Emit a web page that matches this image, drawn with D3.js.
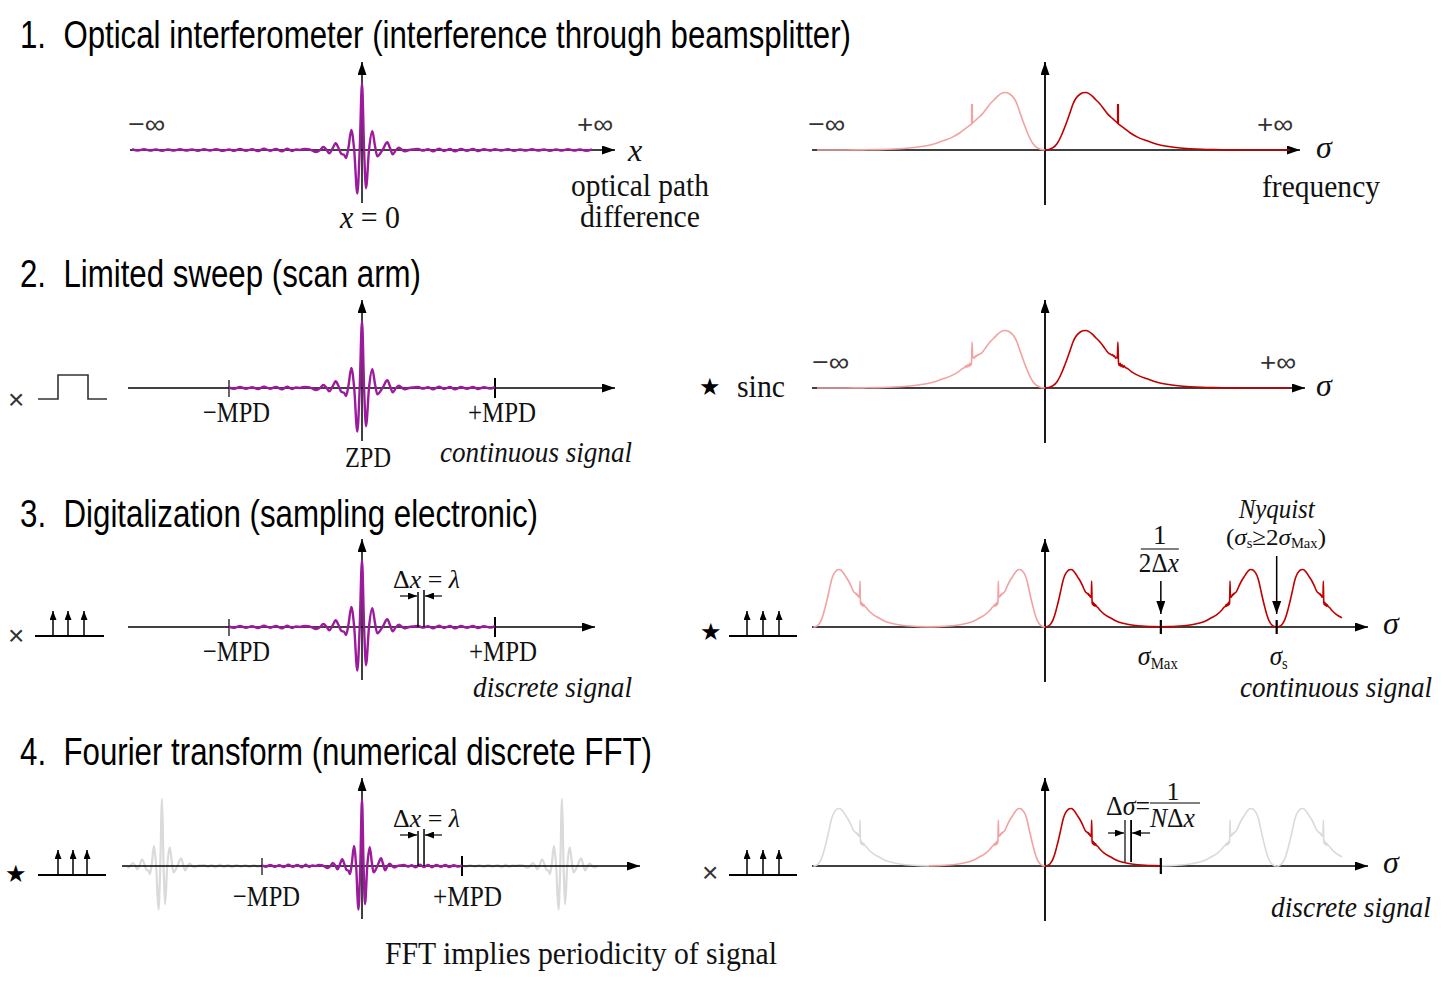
<!DOCTYPE html>
<html>
<head>
<meta charset="utf-8">
<script src="https://cdn.jsdelivr.net/npm/d3@7/dist/d3.min.js"></script>
<style>
  body { margin: 0; background: #fff; }
  text.title { white-space: pre; }
</style>
</head>
<body>
<svg id="chart" width="1447" height="981"></svg>
<script>
// ---- data ----
// interferogram [opd, intensity], opd in the same units as MPD
var MPD = 133;
var interferogram = [
  [-236, 0], [-230, 0.012], [-224, -0.01], [-218, 0.012], [-212, -0.01], [-206, 0.01], [-200, -0.012],
  [-194, 0.01], [-188, -0.01], [-182, 0.012], [-176, -0.01], [-170, 0.01], [-164, -0.012], [-158, 0.012],
  [-152, -0.01], [-146, 0.012], [-139, -0.012], [-133, 0.01], [-128, -0.012], [-122, 0.015], [-116, -0.012],
  [-110, 0.012], [-104, -0.015], [-98, 0.018], [-92, -0.012], [-86, 0.015], [-80, -0.02], [-75, 0.02],
  [-70, -0.015], [-66, 0.01], [-62, 0], [-58, 0.015], [-54, 0.012], [-50, -0.005], [-46, -0.03], [-42, 0],
  [-38.7, 0.045], [-35.5, 0.005], [-32.7, -0.05], [-29.5, 0.02], [-26.3, 0.10], [-23.5, 0.03], [-20.5, -0.06],
  [-18, -0.07], [-16, -0.12], [-13.5, 0.04], [-10.7, 0.30], [-7.8, 0], [-4.7, -0.65], [-2.3, 0], [0, 1.0],
  [2.1, 0], [4, -0.57], [7, 0], [10.3, 0.28], [13, 0.06], [15.3, -0.095], [20.5, 0.0], [25.3, 0.115],
  [28, 0.03], [30.7, -0.065], [34, 0], [37, 0.035], [40, 0], [43, -0.02], [47, 0], [52, 0.01], [56, 0.015],
  [61, -0.01], [66, 0.012], [71, -0.02], [77, 0.02], [82, -0.015], [88, 0.015], [93, -0.02], [99, 0.015],
  [105, -0.012], [111, 0.015], [116, -0.015], [122, 0.012], [128, -0.01], [133, 0.012], [139, -0.01],
  [146, 0.012], [152, -0.012], [158, 0.01], [164, -0.01], [170, 0.012], [176, -0.01], [182, 0.01],
  [188, -0.012], [194, 0.01], [200, -0.01], [206, 0.012], [212, -0.01], [218, 0.01], [224, -0.012],
  [230, 0.01], [236, 0]
];

// one-sided spectrum [sigma, normalized intensity]
var spectrum = [
  [0, 0], [4, 0.01], [8, 0.04], [12, 0.11], [15, 0.2], [18, 0.32], [22, 0.5], [25, 0.65], [28, 0.8],
  [31, 0.9], [35, 0.97], [38, 0.995], [41, 1.0], [44, 0.98], [47, 0.94], [51, 0.87], [55, 0.8], [59, 0.71],
  [63, 0.62], [68, 0.54], [73, 0.46], [79, 0.38], [85, 0.3], [93, 0.22], [102, 0.16], [112, 0.1],
  [122, 0.065], [133, 0.04], [145, 0.023], [157, 0.012], [168, 0.006], [181, 0.003], [200, 0.001],
  [228, 0], [245, 0]
];
// emission line and its sinc ringing once the sweep is limited
var emissionLine = { sigma: 73, top: 0.8 };
var sincRinging = [
  [62, 0.635], [64, 0.6], [65.5, 0.59], [66.5, 0.575], [67.5, 0.58], [68.5, 0.55], [69.5, 0.56],
  [70.5, 0.52], [71.5, 0.535], [72.3, 0.52], [72.9, 0.8], [73.6, 0.42], [74.4, 0.39], [75.2, 0.43],
  [76, 0.37], [77, 0.41], [78, 0.36], [79, 0.385], [80.5, 0.355], [82, 0.345], [86, 0.29]
];
var sigmaMax = 181;
var sigmaS = 362;

var titles = [
  '1.  Optical interferometer (interference through beamsplitter)',
  '2.  Limited sweep (scan arm)',
  '3.  Digitalization (sampling electronic)',
  '4.  Fourier transform (numerical discrete FFT)'
];

// ---- layout ----
var SERIF = '"Liberation Serif", "Times New Roman", serif';
var SANS = '"Liberation Sans Narrow", "Liberation Sans", Arial, sans-serif';
var PURPLE = '#9c1a9c', RED = '#c00000', PINK = '#f2a2a2', GHOST = '#dadada';
var rowY = [150, 388, 627, 866];
var titleY = [48, 287, 527, 765];
var titleW = [831, 401, 518, 632];
var leftCx = 362, rightCx = 1045;

var svg = d3.select('#chart');
var defs = svg.append('defs');

function marker(id, w, h) {
  defs.append('marker').attr('id', id)
    .attr('viewBox', '0 0 ' + w + ' ' + h)
    .attr('refX', w).attr('refY', h / 2)
    .attr('markerWidth', w).attr('markerHeight', h)
    .attr('markerUnits', 'userSpaceOnUse')
    .attr('orient', 'auto')
    .append('path').attr('d', 'M0,0 L' + w + ',' + h / 2 + ' L0,' + h + ' Z').attr('fill', '#000');
}
marker('arrow', 13, 9);
marker('arrowS', 9, 7);

function line(g, x1, y1, x2, y2, w, arrow, color) {
  var l = g.append('line').attr('x1', x1).attr('y1', y1).attr('x2', x2).attr('y2', y2)
    .attr('stroke', color || '#000').attr('stroke-width', w || 1.5);
  if (arrow) l.attr('marker-end', 'url(#' + arrow + ')');
  return l;
}

function label(g, x, y, parts, o) {
  o = o || {};
  var t = g.append('text').attr('x', x).attr('y', y)
    .attr('font-family', o.sans ? SANS : SERIF)
    .attr('font-size', o.size || 30)
    .attr('fill', o.color || '#111')
    .attr('text-anchor', o.anchor || 'start');
  if (typeof parts === 'string') parts = [[parts]];
  parts.forEach(function (p) {
    var s = t.append('tspan').text(p[0]);
    var st = p[1] || {};
    if (st.italic) s.attr('font-style', 'italic');
    if (st.size) s.attr('font-size', st.size);
    if (st.dy) s.attr('dy', st.dy);
  });
  if (o.italic) t.attr('font-style', 'italic');
  if (o.family) t.attr('font-family', o.family);
  if (o.cls) t.attr('class', o.cls);
  if (o.width) t.attr('textLength', o.width).attr('lengthAdjust', 'spacingAndGlyphs');
  return t;
}

function comb(g, x0, x1, y, xs, h) {
  line(g, x0, y, x1, y, 2);
  xs.forEach(function (x) { line(g, x, y, x, y - h, 1.5, 'arrowS'); });
}

var g = svg.append('g');

titles.forEach(function (t, i) {
  label(g, 20, titleY[i], t, { sans: true, size: 38, width: titleW[i], color: '#000', cls: 'title' });
});

// ---- left column: interferograms ----
var ampY = 67;
var leftAxes = [
  { x0: 130, x1: 615, k: 1 },
  { x0: 128, x1: 615, k: 1 },
  { x0: 128, x1: 595, k: 1 },
  { x0: 122, x1: 640, k: 100 / 133 }
];

function interfScales(r) {
  var k = leftAxes[r].k;
  var x = d3.scaleLinear().domain([-MPD, MPD]).range([leftCx - MPD * k, leftCx + MPD * k]);
  var y = d3.scaleLinear().domain([-1, 1]).range([rowY[r] + ampY, rowY[r] - ampY]);
  return { x: x, y: y };
}

function drawInterf(r, data, shift, color, width) {
  var s = interfScales(r);
  var gen = d3.line()
    .x(function (d) { return s.x(d[0] + shift); })
    .y(function (d) { return s.y(d[1]); })
    .curve(d3.curveMonotoneX);
  g.append('path').datum(data).attr('d', gen)
    .attr('fill', 'none').attr('stroke', color).attr('stroke-width', width)
    .attr('stroke-linejoin', 'round');
}

function within(lo, hi) {
  return interferogram.filter(function (d) { return d[0] >= lo && d[0] <= hi; });
}

// ghosts of the periodic interferogram (row 4), behind the axis
drawInterf(3, within(-48, MPD), -2 * MPD, GHOST, 2.2);
drawInterf(3, within(-MPD, 48), 2 * MPD, GHOST, 2.2);

leftAxes.forEach(function (a, r) {
  var y0 = rowY[r];
  line(g, a.x0, y0, a.x1, y0, 1.5, 'arrow');
  line(g, leftCx, y0 + 53, leftCx, y0 - 88, 1.5, 'arrow');
  if (r > 0) {
    var s = interfScales(r);
    line(g, s.x(-MPD), y0 - 8, s.x(-MPD), y0 + 9, 1.2);
    line(g, s.x(MPD), y0 - 10, s.x(MPD), y0 + 10, 2);
  }
});

drawInterf(0, within(-232, 233), 0, PURPLE, 2.4);
drawInterf(1, within(-MPD, MPD), 0, PURPLE, 2.4);
drawInterf(2, within(-MPD, MPD), 0, PURPLE, 2.4);
drawInterf(3, within(-MPD, MPD), 0, PURPLE, 2.4);

// sampling step markers (rows 3 and 4)
var sampleMarks = [[56, 62], [74.5, 82.5]];
[2, 3].forEach(function (r, i) {
  var s = interfScales(r), y0 = rowY[r];
  var xa = s.x(sampleMarks[i][0]), xb = s.x(sampleMarks[i][1]);
  line(g, xa, y0, xa, y0 - 35, 1.5);
  line(g, xb, y0, xb, y0 - 37, 1.5);
  line(g, xa - 18, y0 - 31, xa - 1, y0 - 31, 1.2, 'arrowS');
  line(g, xb + 18, y0 - 31, xb + 1, y0 - 31, 1.2, 'arrowS');
  label(g, 393, y0 - 39, [['Δ'], ['x', { italic: true }], [' = '], ['λ', { italic: true }]], { size: 26, width: 67 });
});

// row 1 labels
label(g, 128, 133, '−∞', { sans: true, size: 26, width: 37, color: '#333' });
label(g, 577, 133, '+∞', { sans: true, size: 26, width: 36, color: '#333' });
label(g, 628, 161, [['x', { italic: true }]], { size: 32 });
label(g, 340, 228, [['x', { italic: true }], [' = 0']], { size: 32, width: 60 });
label(g, 640, 196, 'optical path', { size: 31, width: 138, anchor: 'middle' });
label(g, 640, 227, 'difference', { size: 31, width: 120, anchor: 'middle' });

// row 2 labels
label(g, 8, 409, '×', { sans: true, size: 28, color: '#333' });
g.append('path').attr('d', 'M38,399 H58 V375 H88 V399 H107')
  .attr('fill', 'none').attr('stroke', '#333').attr('stroke-width', 1.6);
label(g, 203, 422, '−MPD', { width: 67 });
label(g, 468, 422, '+MPD', { width: 68 });
label(g, 345, 467, 'ZPD', { width: 46 });
label(g, 440, 462, 'continuous signal', { italic: true, width: 192 });

// row 3 labels
label(g, 8, 645, '×', { sans: true, size: 28, color: '#333' });
comb(g, 35, 104, 636, [53, 68, 84], 25);
label(g, 203, 661, '−MPD', { width: 67 });
label(g, 469, 661, '+MPD', { width: 68 });
label(g, 473, 697, 'discrete signal', { italic: true, width: 159 });

// row 4 labels
label(g, 5, 882, '★', { family: '"DejaVu Sans", sans-serif', size: 24, color: '#000' });
comb(g, 38, 106, 875, [58, 73, 87], 25);
label(g, 233, 906, '−MPD', { width: 67 });
label(g, 433, 906, '+MPD', { width: 69 });
label(g, 385, 964, 'FFT implies periodicity of signal', { size: 31, width: 392 });

// ---- right column: spectra ----
var specH = 57.5;
var rightAxes = [
  { x0: 812, x1: 1300, k: 1 },
  { x0: 812, x1: 1305, k: 1 },
  { x0: 812, x1: 1368, k: 0.64 },
  { x0: 812, x1: 1368, k: 0.64 }
];

var ringSpectrum = spectrum
  .filter(function (d) { return d[0] < 62 || d[0] > 86; })
  .concat(sincRinging)
  .sort(function (a, b) { return a[0] - b[0]; });

function specScales(r) {
  var k = rightAxes[r].k;
  var x = d3.scaleLinear().domain([0, 100]).range([rightCx, rightCx + 100 * k]);
  var y = d3.scaleLinear().domain([0, 1]).range([rowY[r], rowY[r] - specH]);
  return { x: x, y: y };
}

// one half copy of the spectrum: placed at center, mirrored or not, offsets up to maxOff
function drawSpec(r, data, center, mirror, maxOff, color) {
  var s = specScales(r);
  var pts = data.filter(function (d) { return d[0] <= maxOff; })
    .map(function (d) { return [center + (mirror ? -d[0] : d[0]), d[1]]; });
  var gen = d3.line()
    .x(function (d) { return s.x(d[0]); })
    .y(function (d) { return s.y(d[1]); })
    .curve(d3.curveMonotoneX);
  if (mirror) pts.reverse();
  g.append('path').datum(pts).attr('d', gen)
    .attr('fill', 'none').attr('stroke', color).attr('stroke-width', 1.6)
    .attr('stroke-linejoin', 'round');
}

rightAxes.forEach(function (a, r) {
  var y0 = rowY[r];
  line(g, a.x0, y0, a.x1, y0, 1.5, 'arrow');
  line(g, rightCx, y0 + 55, rightCx, y0 - 88, 1.8, 'arrow');
});

// row 1: continuous spectrum with a narrow line
drawSpec(0, spectrum, 0, true, 233, PINK);
drawSpec(0, spectrum, 0, false, 245, RED);
(function () {
  var s = specScales(0);
  var base = spectrum.find(function (d) { return d[0] === emissionLine.sigma; })[1];
  line(g, s.x(emissionLine.sigma), s.y(base), s.x(emissionLine.sigma), s.y(emissionLine.top), 2.2, null, RED);
  line(g, s.x(-emissionLine.sigma), s.y(base), s.x(-emissionLine.sigma), s.y(emissionLine.top), 2.2, null, PINK);
})();

// row 2: convolved with sinc
drawSpec(1, ringSpectrum, 0, true, 233, PINK);
drawSpec(1, ringSpectrum, 0, false, 245, RED);

// row 3: periodic copies every sigmaS
drawSpec(2, ringSpectrum, -sigmaS, false, sigmaMax, PINK);
drawSpec(2, ringSpectrum, 0, true, sigmaMax, PINK);
drawSpec(2, ringSpectrum, 0, false, sigmaMax, RED);
drawSpec(2, ringSpectrum, sigmaS, true, sigmaMax, RED);
drawSpec(2, ringSpectrum, sigmaS, false, 104, RED);

// row 4: only the first period is kept
drawSpec(3, ringSpectrum, -sigmaS, false, sigmaMax, GHOST);
drawSpec(3, ringSpectrum, sigmaS, true, sigmaMax, GHOST);
drawSpec(3, ringSpectrum, sigmaS, false, 104, GHOST);
drawSpec(3, ringSpectrum, 0, true, sigmaMax, PINK);
drawSpec(3, ringSpectrum, 0, false, sigmaMax, RED);

// right labels
[0, 1].forEach(function (r) {
  var y0 = rowY[r];
  label(g, r ? 812 : 808, y0 - 17, '−∞', { sans: true, size: 26, width: 37, color: '#333' });
  label(g, r ? 1260 : 1257, y0 - 17, '+∞', { sans: true, size: 26, width: 36, color: '#333' });
  label(g, 1316, y0 + 8, [['σ', { italic: true }]], { size: 32 });
});
label(g, 1262, 197, 'frequency', { size: 31, width: 118 });

label(g, 699, 395, '★', { family: '"DejaVu Sans", sans-serif', size: 24, color: '#000' });
label(g, 737, 397, 'sinc', { size: 32, width: 48 });

[2, 3].forEach(function (r) {
  label(g, 1383, rowY[r] + 7, [['σ', { italic: true }]], { size: 32 });
});

// row 3 annotations
(function () {
  var s = specScales(2), y0 = rowY[2];
  var xm = s.x(sigmaMax), xs = s.x(sigmaS);
  label(g, 700, 640, '★', { family: '"DejaVu Sans", sans-serif', size: 24, color: '#000' });
  comb(g, 729, 797, 636, [747, 763, 779], 25);
  line(g, xm, y0 - 7, xm, y0 + 7, 2.2);
  line(g, xs, y0 - 7, xs, y0 + 7, 2.2);
  line(g, xm, y0 - 46, xm, y0 - 13, 1.5, 'arrow');
  line(g, xs, y0 - 71, xs, y0 - 13, 1.5, 'arrow');
  label(g, xm - 1, 544, '1', { size: 27, anchor: 'middle' });
  line(g, xm - 20, 549, xm + 18, 549, 1.2);
  label(g, xm - 2, 572, [['2Δ'], ['x', { italic: true }]], { size: 28, width: 40, anchor: 'middle' });
  label(g, xm - 23, 665, [['σ', { italic: true }], ['Max', { size: 16, dy: 4 }]], { size: 28, width: 40 });
  label(g, xs, 518, 'Nyquist', { italic: true, size: 28, width: 76, anchor: 'middle' });
  label(g, 1226, 545, [['('], ['σ', { italic: true }], ['s', { size: 14, dy: 3 }], ['≥2', { dy: -3 }],
    ['σ', { italic: true }], ['Max', { size: 14, dy: 3 }], [')', { dy: -3 }]], { size: 24, width: 100 });
  label(g, xs - 7, 665, [['σ', { italic: true }], ['s', { size: 16, dy: 4 }]], { size: 28, width: 18 });
  label(g, 1240, 697, 'continuous signal', { italic: true, width: 192 });
})();

// row 4 annotations
(function () {
  var s = specScales(3), y0 = rowY[3];
  var xm = s.x(sigmaMax);
  label(g, 702, 882, '×', { sans: true, size: 28, color: '#333' });
  comb(g, 729, 797, 875, [747, 763, 779], 25);
  line(g, xm, y0 - 8, xm, y0 + 8, 2.2);
  var dsA = s.x(125), dsB = s.x(134.5);
  line(g, dsA, y0 - 4, dsA, y0 - 46, 1.2);
  line(g, dsB, y0 - 4, dsB, y0 - 46, 1.8);
  line(g, dsA - 17, y0 - 33, dsA - 1, y0 - 33, 1.2, 'arrowS');
  line(g, dsB + 19, y0 - 33, dsB + 1, y0 - 33, 1.2, 'arrowS');
  label(g, 1106, 815, [['Δ'], ['σ', { italic: true }], ['=']], { size: 28, width: 44 });
  label(g, 1173, 800, '1', { size: 26, anchor: 'middle' });
  line(g, 1150, 803, 1200, 803, 1.2);
  label(g, 1150, 827, [['N', { italic: true }], ['Δ'], ['x', { italic: true }]], { size: 28, width: 45 });
  label(g, 1271, 917, 'discrete signal', { italic: true, width: 160 });
})();
</script>
</body>
</html>
